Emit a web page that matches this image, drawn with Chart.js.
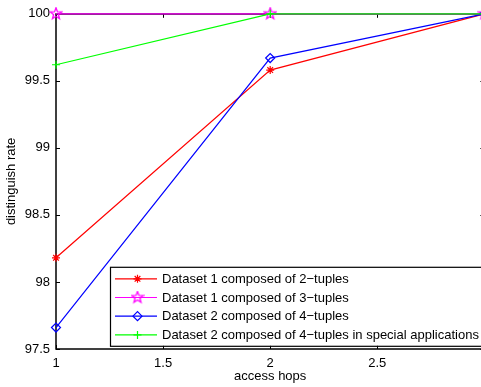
<!DOCTYPE html>
<html>
<head>
<meta charset="utf-8">
<script src="https://cdn.jsdelivr.net/npm/chart.js@4.4.0/dist/chart.umd.min.js"></script>
<style>
  html, body { margin: 0; padding: 0; overflow: hidden; background: #fff; }
  #wrap { width: 495px; height: 387px; }
</style>
</head>
<body>
<div id="wrap"><canvas id="chart" width="495" height="387"></canvas></div>
<script>
const hops = [1, 2, 3];
const d1Pairs = [98.18, 99.58, 100];
const d1Triples = [100, 100, 100];
const d2Quads = [97.66, 99.67, 100];
const d2Special = [99.62, 100, 100];

const labels = [
  'Dataset 1 composed of 2\u2212tuples',
  'Dataset 1 composed of 3\u2212tuples',
  'Dataset 2 composed of 4\u2212tuples',
  'Dataset 2 composed of 4\u2212tuples in special applications'
];
const xTicks = [1, 1.5, 2, 2.5, 3];
const yTicks = [97.5, 98, 98.5, 99, 99.5, 100];

const FONT = '"Liberation Sans", Arial, Helvetica, sans-serif';

// matlab-ish pentagram marker
function pentagram(color) {
  const c = document.createElement('canvas');
  c.width = 14; c.height = 14;
  const g = c.getContext('2d');
  g.strokeStyle = color;
  g.lineWidth = 1.3;
  g.beginPath();
  for (let i = 0; i < 10; i++) {
    const r = i % 2 === 0 ? 6 : 2.5;
    const a = -Math.PI / 2 + i * Math.PI / 5;
    const px = 7 + r * Math.cos(a), py = 7 + r * Math.sin(a);
    if (i === 0) g.moveTo(px, py); else g.lineTo(px, py);
  }
  g.closePath();
  g.stroke();
  return c;
}

const toPts = vals => hops.map((x, i) => ({ x, y: vals[i] }));

// later series sit on top, like matlab's plot order
function ds(label, vals, color, style, radius, order) {
  return {
    label,
    data: toPts(vals),
    order,
    borderColor: color,
    backgroundColor: color,
    pointBorderColor: color,
    pointBackgroundColor: 'rgba(0,0,0,0)',
    pointStyle: style,
    pointRadius: radius,
    pointBorderWidth: 1.2,
    borderWidth: 1.2,
    tension: 0,
    clip: false
  };
}

const datasets = [
  ds(labels[0], d1Pairs, '#ff0000', 'star', 4, 4),
  ds(labels[1], d1Triples, '#ff00ff', pentagram('#ff00ff'), 6, 3),
  ds(labels[2], d2Quads, '#0000ff', 'rectRot', 4.5, 2),
  ds(labels[3], d2Special, '#00ff00', 'cross', 4, 1)
];

// axes box with inward ticks
const boxPlugin = {
  id: 'box',
  beforeDatasetsDraw(chart) {
    const { ctx, chartArea: a, scales } = chart;
    ctx.save();
    ctx.strokeStyle = '#000';
    ctx.lineWidth = 1;
    ctx.beginPath();
    xTicks.forEach(v => {
      const px = Math.round(scales.x.getPixelForValue(v)) + 0.5;
      ctx.moveTo(px, a.bottom); ctx.lineTo(px, a.bottom - 4);
      ctx.moveTo(px, a.top); ctx.lineTo(px, a.top + 4);
    });
    yTicks.forEach(v => {
      const py = Math.round(scales.y.getPixelForValue(v)) + 0.5;
      ctx.moveTo(a.left, py); ctx.lineTo(a.left + 4, py);
      ctx.moveTo(a.right, py); ctx.lineTo(a.right - 4, py);
    });
    ctx.stroke();
    ctx.lineWidth = 1.5;
    ctx.strokeRect(Math.round(a.left), Math.round(a.top), Math.round(a.right - a.left), Math.round(a.bottom - a.top));
    ctx.restore();
  }
};

const legendPlugin = {
  id: 'boxLegend',
  afterDraw(chart) {
    const { ctx, chartArea: a } = chart;
    ctx.save();
    ctx.font = '13px ' + FONT;
    let w = 0;
    labels.forEach(t => { w = Math.max(w, ctx.measureText(t).width); });
    const left = a.left + 54, top = a.top + 253, h = 79;
    const width = 52 + w + 8;
    ctx.fillStyle = '#fff';
    ctx.fillRect(left, top, width, h);
    ctx.strokeStyle = '#000';
    ctx.lineWidth = 1.2;
    ctx.strokeRect(left + 0.5, top + 0.5, width, h);
    chart.data.datasets.forEach((d, i) => {
      const y = top + 12 + i * 18.7;
      ctx.strokeStyle = d.borderColor;
      ctx.lineWidth = 1.2;
      ctx.beginPath();
      ctx.moveTo(left + 5, y); ctx.lineTo(left + 47, y);
      ctx.stroke();
      ctx.fillStyle = 'rgba(0,0,0,0)';
      Chart.helpers.drawPoint(ctx, {
        pointStyle: d.pointStyle, radius: d.pointRadius, rotation: 0, borderWidth: 1.2
      }, left + 27.5, y);
      ctx.fillStyle = '#000';
      ctx.textBaseline = 'middle';
      ctx.textAlign = 'left';
      ctx.fillText(d.label, left + 52, y + 0.5);
    });
    ctx.restore();
  }
};

new Chart(document.getElementById('chart'), {
  type: 'line',
  data: { datasets },
  options: {
    responsive: false,
    animation: false,
    layout: { padding: { top: 10, right: 4, left: 0, bottom: 0 } },
    plugins: { legend: { display: false }, tooltip: { enabled: false } },
    elements: { line: { fill: false } },
    scales: {
      x: {
        type: 'linear',
        min: 1, max: 3,
        afterFit: s => { s.height = 38; },
        afterBuildTicks: s => { s.ticks = xTicks.map(v => ({ value: v })); },
        grid: { display: false, drawTicks: false },
        border: { display: false },
        ticks: { padding: 7, color: '#000', font: { family: FONT, size: 13 }, maxRotation: 0, autoSkip: false,
                 callback: v => String(v) },
        title: { display: true, text: 'access hops', color: '#000', font: { family: FONT, size: 13 }, padding: { top: 0, bottom: 3 } }
      },
      y: {
        min: 97.5, max: 100,
        afterFit: s => { s.width = 56; },
        afterBuildTicks: s => { s.ticks = yTicks.map(v => ({ value: v })); },
        grid: { display: false, drawTicks: false },
        border: { display: false },
        ticks: { padding: 6, color: '#000', font: { family: FONT, size: 13 }, autoSkip: false,
                 callback: v => String(v) },
        title: { display: true, text: 'distinguish rate', color: '#000', font: { family: FONT, size: 13 }, padding: { top: 4, bottom: 0 } }
      }
    }
  },
  plugins: [boxPlugin, legendPlugin]
});
</script>
</body>
</html>
